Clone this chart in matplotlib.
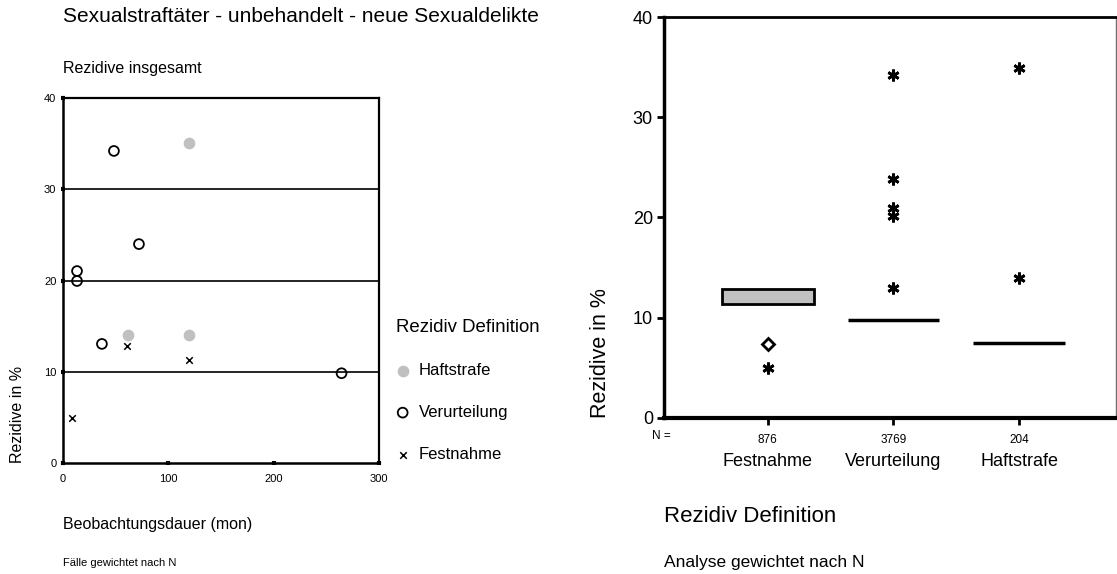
import numpy as np
import matplotlib.pyplot as plt

plt.rcParams['font.family'] = ['Liberation Sans', 'DejaVu Sans']

# linkes Diagramm: Rezidive nach Beobachtungsdauer
haft_x = [120, 62, 120]
haft_y = [35.1, 14.05, 14.05]
verurt_x = [48.6, 72.3, 13.6, 13.6, 37.2, 264.3]
verurt_y = [34.2, 24.0, 21.05, 19.96, 13.07, 9.86]
festn_x = [120, 60.9, 9.2]
festn_y = [11.3, 12.85, 5.0]

# rechtes Diagramm: Boxplots nach Rezidiv-Definition
kategorien = ['Festnahme', 'Verurteilung', 'Haftstrafe']
n_faelle = [876, 3769, 204]
box_unten = [11.33, 9.77, 7.47]
box_oben = [12.86, 9.77, 7.47]
ausreisser = [[7.36], [], []]
extreme = [[4.99], [34.2, 23.8, 20.9, 20.1, 13.0], [34.9, 14.0]]

fig = plt.figure(figsize=(11.17, 5.74), dpi=100)

# ---- links ----
ax1 = fig.add_axes([0.0561, 0.1929, 0.2834, 0.6364])
ax1.scatter(haft_x, haft_y, s=55, color='#c0c0c0', zorder=3, label='Haftstrafe')
ax1.scatter(verurt_x, verurt_y, s=50, facecolor='none', edgecolor='black',
            linewidth=1.3, zorder=3, label='Verurteilung')
ax1.scatter(festn_x, festn_y, s=22, marker='x', color='black', linewidth=1.1,
            zorder=3, label='Festnahme')
ax1.set_xlim(0, 300)
ax1.set_ylim(0, 40)
ax1.set_xticks([0, 100, 200, 300])
ax1.set_yticks([0, 10, 20, 30, 40])
for y in [10, 20, 30]:
    ax1.axhline(y, color='black', linewidth=1.2, zorder=1)
for s in ax1.spines.values():
    s.set_linewidth(1.6)
ax1.spines['left'].set_linewidth(1.8)
ax1.spines['bottom'].set_linewidth(1.8)
ax1.tick_params(direction='inout', length=3, width=3, labelsize=8, pad=3)
ax1.tick_params(axis='x', pad=6)

fig.text(62.7 / 1117, 1 - 16 / 574, 'Sexualstraftäter - unbehandelt - neue Sexualdelikte',
         fontsize=15, va='center', ha='left')
fig.text(62.7 / 1117, 1 - 68 / 574, 'Rezidive insgesamt', fontsize=11.5, va='center')
fig.text(18 / 1117, 1 - 463 / 574, 'Rezidive in %', fontsize=11.5, rotation=90,
         va='bottom', ha='center')
fig.text(62.7 / 1117, 1 - 525 / 574, 'Beobachtungsdauer (mon)', fontsize=11.5,
         va='center')
fig.text(63 / 1117, 1 - 563 / 574, 'Fälle gewichtet nach N', fontsize=8, va='center')

leg = fig.legend(loc='upper left', bbox_to_anchor=(396 / 1117, 1 - 319 / 574),
                 title='Rezidiv Definition', frameon=False, fontsize=12,
                 title_fontsize=13.4, alignment='left', labelspacing=1.62,
                 handlelength=0.8, handletextpad=0.55, borderpad=0, borderaxespad=0)

# ---- rechts ----
ax2 = fig.add_axes([0.5945, 0.2723, 0.4047, 0.6976])
pos = np.arange(1, len(kategorien) + 1)
hoehe = np.array(box_oben) - np.array(box_unten)
for p, u, h in zip(pos, box_unten, hoehe):
    if h > 0:
        ax2.bar(p, h, bottom=u, width=0.73, color='#c0c0c0', edgecolor='black',
                linewidth=2, zorder=2)
    else:
        ax2.hlines(u, p - 0.365, p + 0.365, color='black', linewidth=2.5, zorder=2)
for p, werte in zip(pos, ausreisser):
    if werte:
        ax2.plot([p] * len(werte), werte, linestyle='none', marker='D', ms=6.5,
                 mfc='white', mec='black', mew=2, zorder=3)
for p, werte in zip(pos, extreme):
    if werte:
        ax2.plot([p] * len(werte), werte, linestyle='none', marker=(6, 2, 0), ms=8.5,
                 color='black', mew=2, zorder=3)
ax2.set_xlim(0.174, 3.772)
ax2.set_ylim(0, 40)
ax2.set_yticks([0, 10, 20, 30, 40])
ax2.set_xticks(pos)
ax2.set_xticklabels([str(n) for n in n_faelle], fontsize=8.5)
ax2.tick_params(axis='y', direction='out', length=5, width=2, labelsize=13, pad=3)
ax2.tick_params(axis='x', direction='out', length=5, width=2, pad=7)
ax2.spines['left'].set_linewidth(2.5)
ax2.spines['bottom'].set_linewidth(3)
ax2.spines['top'].set_linewidth(2)
ax2.spines['right'].set_linewidth(1)
ax2.spines['right'].set_color('#707070')
for p, k in zip(pos, kategorien):
    ax2.text(p, -4.4, k, ha='center', va='center', fontsize=13)
fig.text(652 / 1117, 1 - 436 / 574, 'N =', ha='left', va='center', fontsize=8.5)

fig.text(601 / 1117, 1 - 418 / 574, 'Rezidive in %', fontsize=15.5, rotation=90,
         va='bottom', ha='center')
fig.text(664 / 1117, 1 - 517 / 574, 'Rezidiv Definition', fontsize=16, va='center')
fig.text(664 / 1117, 1 - 563 / 574, 'Analyse gewichtet nach N', fontsize=12.5,
         va='center')

fig.savefig('out.png', dpi=100)
